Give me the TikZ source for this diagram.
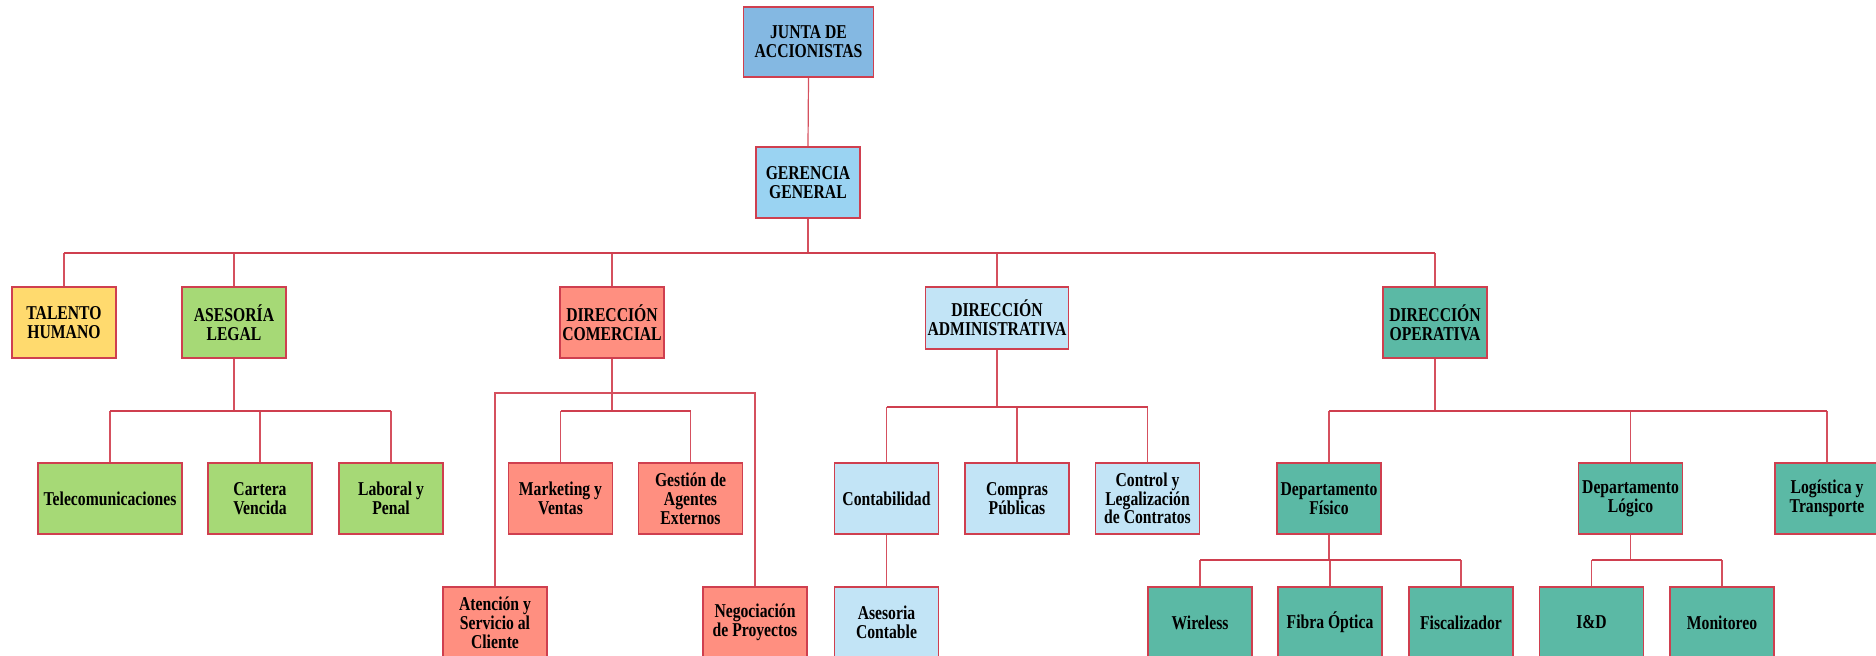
\documentclass[tikz,border=0pt]{standalone}
\usepackage{fontspec}
\setmainfont{Liberation Serif}[FakeStretch=0.8]
\definecolor{borde}{HTML}{CF3F4F}
\definecolor{linea}{HTML}{D5505E}
\definecolor{junta}{HTML}{84B8E2}
\definecolor{gerencia}{HTML}{9AD3F2}
\definecolor{talento}{HTML}{FFDA6E}
\definecolor{legal}{HTML}{A6D976}
\definecolor{comercial}{HTML}{FF8F80}
\definecolor{admin}{HTML}{C2E4F6}
\definecolor{operativa}{HTML}{5BB9A5}
\tikzset{
  box/.style={draw=borde,line width=0.9pt,inner sep=0pt,align=center,
    minimum width=52pt,minimum height=35.5pt,
    font=\fontsize{9.8pt}{9.4pt}\selectfont\bfseries},
  bus/.style={draw=borde,line width=1.2pt},
  drop/.style={draw=linea,line width=0.6pt}
}
\begin{document}
\begin{tikzpicture}[x=0.5pt,y=-0.5pt]
	\useasboundingbox (0,0) rectangle (1876,656);
	\node[box,fill=junta,minimum width=65pt,minimum height=35pt] (jun) at (808.5,42) {JUNTA DE\\ACCIONISTAS};
	\node[box,fill=gerencia] (ger) at (808,182.5) {GERENCIA\\GENERAL};
	\node[box,fill=talento] (tal) at (64,322.5) {TALENTO\\HUMANO};
	\node[box,fill=legal] (ase) at (234,322.5) {ASESORÍA\\LEGAL};
	\node[box,fill=comercial] (com) at (612,322.5) {DIRECCIÓN\\COMERCIAL};
	\node[box,fill=admin,minimum width=71.5pt,minimum height=31pt] (adm) at (997,318) {DIRECCIÓN\\ADMINISTRATIVA};
	\node[box,fill=operativa] (ope) at (1435,322.5) {DIRECCIÓN\\OPERATIVA};
	\node[box,fill=legal,minimum width=72pt] (tel) at (110,498.5) {Telecomunicaciones};
	\node[box,fill=legal] (car) at (260,498.5) {Cartera\\Vencida};
	\node[box,fill=legal] (lab) at (391,498.5) {Laboral y\\Penal};
	\node[box,fill=comercial] (mar) at (560.5,498.5) {Marketing y\\Ventas};
	\node[box,fill=comercial] (ges) at (690.5,498.5) {Gestión de\\Agentes\\Externos};
	\node[box,fill=comercial] (ate) at (495,622.5) {Atención y\\Servicio al\\Cliente};
	\node[box,fill=comercial] (neg) at (755,622.5) {Negociación\\de Proyectos};
	\node[box,fill=admin] (con) at (886.5,498.5) {Contabilidad};
	\node[box,fill=admin] (cmp) at (1017,498.5) {Compras\\Públicas};
	\node[box,fill=admin] (ctl) at (1147.5,498.5) {Control y\\Legalización\\de Contratos};
	\node[box,fill=admin] (acn) at (886.5,622.5) {Asesoria\\Contable};
	\node[box,fill=operativa] (fis) at (1329,498.5) {Departamento\\Físico};
	\node[box,fill=operativa] (log) at (1630.5,498.5) {Departamento\\Lógico};
	\node[box,fill=operativa] (lgt) at (1827,498.5) {Logística y\\Transporte};
	\node[box,fill=operativa] (wir) at (1200,622.5) {Wireless};
	\node[box,fill=operativa] (fib) at (1330,622.5) {Fibra Óptica};
	\node[box,fill=operativa] (fsc) at (1461,622.5) {Fiscalizador};
	\node[box,fill=operativa] (iyd) at (1591.5,622.5) {I\&D};
	\node[box,fill=operativa] (mon) at (1722,622.5) {Monitoreo};
	\coordinate (bg) at (0,253);
	\coordinate (bl) at (0,411);
	\coordinate (bc) at (0,393);
	\coordinate (ba) at (0,407);
	\coordinate (bf) at (0,560);
	\draw[drop] (jun.south) -- (ger.north);
	\draw[drop] (ger.south) -- (ger.south |- bg);
	\foreach \n in {tal,ase,com,adm,ope}
		\draw[drop] (\n.north) -- (\n.north |- bg);
	\draw[bus] (tal.north |- bg) -- (ope.north |- bg);
	\draw[drop] (ase.south) -- (ase.south |- bl);
	\foreach \n in {tel,car,lab}
		\draw[drop] (\n.north) -- (\n.north |- bl);
	\draw[bus] (tel.north |- bl) -- (lab.north |- bl);
	\draw[drop] (com.south) -- (com.south |- bl);
	\foreach \n in {mar,ges}
		\draw[drop] (\n.north) -- (\n.north |- bl);
	\draw[bus] (mar.north |- bl) -- (ges.north |- bl);
	\draw[drop] (ate.north) -- (ate.north |- bc) -- (neg.north |- bc) -- (neg.north);
	\draw[drop] (adm.south) -- (adm.south |- ba);
	\foreach \n in {con,cmp,ctl}
		\draw[drop] (\n.north) -- (\n.north |- ba);
	\draw[bus] (con.north |- ba) -- (ctl.north |- ba);
	\draw[drop] (con.south) -- (acn.north);
	\draw[drop] (ope.south) -- (ope.south |- bl);
	\foreach \n in {fis,log,lgt}
		\draw[drop] (\n.north) -- (\n.north |- bl);
	\draw[bus] (fis.north |- bl) -- (lgt.north |- bl);
	\draw[drop] (fis.south) -- (fis.south |- bf);
	\foreach \n in {wir,fib,fsc}
		\draw[drop] (\n.north) -- (\n.north |- bf);
	\draw[bus] (wir.north |- bf) -- (fsc.north |- bf);
	\draw[drop] (log.south) -- (log.south |- bf);
	\foreach \n in {iyd,mon}
		\draw[drop] (\n.north) -- (\n.north |- bf);
	\draw[bus] (iyd.north |- bf) -- (mon.north |- bf);
\end{tikzpicture}
\end{document}
